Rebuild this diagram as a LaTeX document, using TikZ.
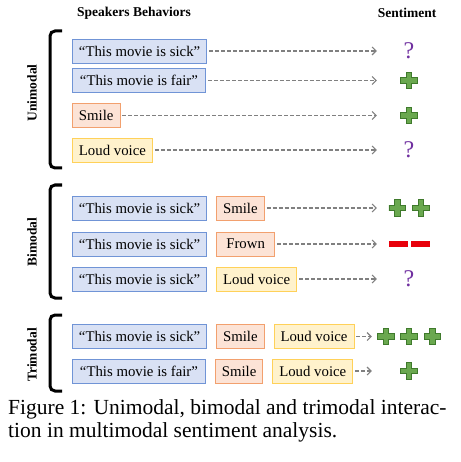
\documentclass[tikz,border=0pt]{standalone}
\usepackage{fontspec}
\setmainfont{Liberation Serif}
\usetikzlibrary{arrows.meta, positioning}
\definecolor{verbalfill}{HTML}{D9E1F4}\definecolor{verballine}{HTML}{7094D6}
\definecolor{visualfill}{HTML}{FCE3D6}\definecolor{visualline}{HTML}{F2A06E}
\definecolor{acousticfill}{HTML}{FFF2CC}\definecolor{acousticline}{HTML}{FFD159}
\definecolor{posfill}{HTML}{6AA84F}\definecolor{posline}{HTML}{3F7A2C}
\definecolor{negred}{HTML}{E8000B}\definecolor{qpurple}{HTML}{7030A0}
\tikzset{mod/.style={rectangle,draw,line width=0.9pt,minimum height=24pt,inner xsep=6.5pt,inner ysep=0pt,font=\fontsize{14.8}{16}\selectfont},verbal/.style={mod,draw=verballine,fill=verbalfill,minimum width=133pt},visual/.style={mod,draw=visualline,fill=visualfill},acoustic/.style={mod,draw=acousticline,fill=acousticfill},head/.style={font=\fontsize{13.5}{15}\selectfont\bfseries,inner sep=0pt},sent/.style={inner sep=0pt,minimum width=64pt,minimum height=24pt},line/.style={-{Straight Barb[length=4pt,width=8pt]},draw=gray,line width=1.1pt,dash pattern=on 4pt off 2pt,shorten <=2pt},brace/.style={line width=3pt,rounded corners=5pt}}
\newcommand{\posmark}{\tikz[baseline=-0.5ex]\filldraw[fill=posfill,draw=posline,line width=0.8pt] (-2.8pt,8.2pt) -- (2.8pt,8.2pt) -- (2.8pt,2.8pt) -- (8.2pt,2.8pt) -- (8.2pt,-2.8pt) -- (2.8pt,-2.8pt) -- (2.8pt,-8.2pt) -- (-2.8pt,-8.2pt) -- (-2.8pt,-2.8pt) -- (-8.2pt,-2.8pt) -- (-8.2pt,2.8pt) -- (-2.8pt,2.8pt) -- cycle;}
\newcommand{\negmark}{\tikz[baseline=-0.5ex]\fill[negred] (-9.5pt,-3pt) rectangle (9.5pt,3pt);}
\newcommand{\qmark}{{\fontsize{24}{24}\selectfont\color{qpurple}?}}
\begin{document}
\begin{tikzpicture}[node distance=9pt]
\useasboundingbox (0,0) rectangle (460pt,-462pt);
\node[head] (hb) at (134pt,-13pt) {Speakers Behaviors};
\node[head] (hs) at (407pt,-13pt) {Sentiment};
% unimodal
\node[head,rotate=90] (lu) at (32pt,-93pt) {Unimodal};
\draw[brace] (62pt,-31pt) -- (50pt,-31pt) -- (50pt,-168pt) -- (62pt,-168pt);
\node[verbal,anchor=west] (u1) at (72pt,-51pt) {“This movie is sick”};
\node[verbal,anchor=west] (u2) at (72pt,-80.5pt) {“This movie is fair”};
\node[visual,anchor=west] (u3) at (72pt,-115.5pt) {Smile};
\node[acoustic,anchor=west] (u4) at (72pt,-150pt) {Loud voice};
\node[sent] (su1) at (409pt,-51pt) {\qmark};
\node[sent] (su2) at (409pt,-80.5pt) {\posmark};
\node[sent] (su3) at (409pt,-115.5pt) {\posmark};
\node[sent] (su4) at (409pt,-150pt) {\qmark};
\draw[line] (u1) -- (su1);
\draw[line] (u2) -- (su2);
\draw[line] (u3) -- (su3);
\draw[line] (u4) -- (su4);
% bimodal
\node[head,rotate=90] (lb) at (32pt,-242pt) {Bimodal};
\draw[brace] (62pt,-185pt) -- (50pt,-185pt) -- (50pt,-298pt) -- (62pt,-298pt);
\node[verbal,anchor=west] (b1) at (72pt,-208pt) {“This movie is sick”};
\node[verbal,anchor=west] (b2) at (72pt,-244pt) {“This movie is sick”};
\node[verbal,anchor=west] (b3) at (72pt,-279pt) {“This movie is sick”};
\node[visual,right=of b1] (b1v) {Smile};
\node[visual,right=of b2,minimum width=58pt] (b2v) {Frown};
\node[acoustic,right=of b3] (b3a) {Loud voice};
\node[sent] (sb1) at (409pt,-208pt) {\posmark\hspace{6.5pt}\posmark};
\node[sent] (sb2) at (409pt,-244pt) {\negmark\hspace{3pt}\negmark};
\node[sent] (sb3) at (409pt,-279pt) {\qmark};
\draw[line] (b1v) -- (sb1);
\draw[line] (b2v) -- (sb2);
\draw[line] (b3a) -- (sb3);
% trimodal
\node[head,rotate=90] (lt) at (32pt,-355pt) {Trimodal};
\draw[brace] (62pt,-315pt) -- (50pt,-315pt) -- (50pt,-391pt) -- (62pt,-391pt);
\node[verbal,anchor=west] (t1) at (72pt,-336.5pt) {“This movie is sick”};
\node[verbal,anchor=west] (t2) at (72pt,-371pt) {“This movie is fair”};
\node[visual,right=of t1] (t1v) {Smile};
\node[visual,right=of t2] (t2v) {Smile};
\node[acoustic,right=of t1v] (t1a) {Loud voice};
\node[acoustic,right=of t2v] (t2a) {Loud voice};
\node[sent,minimum width=74pt] (st1) at (409pt,-336.5pt) {\posmark\hspace{6pt}\posmark\hspace{6pt}\posmark};
\node[sent,minimum width=74pt] (st2) at (409pt,-371pt) {\posmark};
\draw[line] (t1a) -- (st1);
\draw[line] (t2a) -- (st2);
% caption
\node[anchor=north west,align=left,inner sep=0pt,font=\fontsize{21.5}{23}\selectfont] (cap) at (8pt,-399pt) {Figure 1: Unimodal, bimodal and trimodal interac-\\tion in multimodal sentiment analysis.};
\end{tikzpicture}
\end{document}
